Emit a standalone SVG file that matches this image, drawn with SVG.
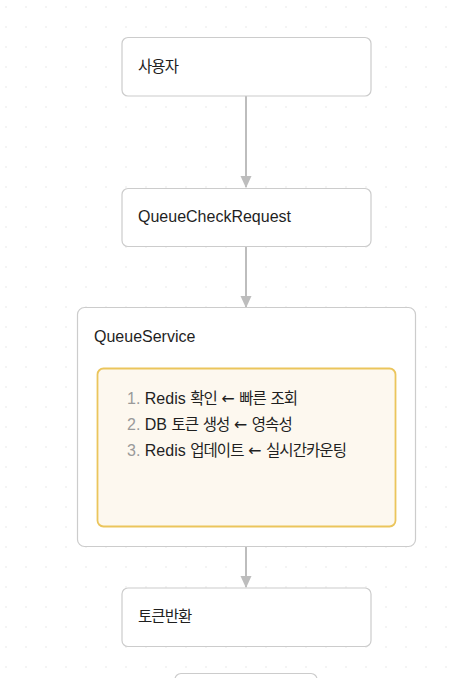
<svg xmlns="http://www.w3.org/2000/svg" width="456" height="678" viewBox="0 0 456 678">
<defs>
<pattern id="grid" x="0" y="0" width="20" height="20" patternUnits="userSpaceOnUse">
<rect x="5.5" y="6.5" width="1" height="1" fill="#d4d4d4"/>
</pattern>
<marker id="arr" viewBox="0 0 12 12" refX="11" refY="6" markerWidth="12" markerHeight="12" markerUnits="userSpaceOnUse" orient="auto">
<path d="M0,0.5 L12,6 L0,11.5 Z" fill="#bdbdbd"/>
</marker>
</defs>
<style>
.node{fill:#ffffff;stroke:#cccccc;stroke-width:1.2}
.inner{fill:#fdf8ef;stroke:#ebc55c;stroke-width:1.8}
.lbl{font-family:"Liberation Sans","Noto Sans CJK KR",sans-serif;font-size:16px;fill:#1f1f1f}
.ko{font-family:"Noto Sans CJK KR",sans-serif;font-size:15.5px;letter-spacing:-0.9px}
.ar{font-family:"DejaVu Sans",sans-serif;font-size:16px}
.num{fill:#9a9a9a}
.edge{stroke:#bdbdbd;stroke-width:2;fill:none}
</style>
<rect width="456" height="678" fill="#ffffff"/>
<rect width="456" height="678" fill="url(#grid)"/>
<g id="connectors">
<line class="edge" x1="246" y1="96" x2="246" y2="187" marker-end="url(#arr)"/>
<line class="edge" x1="246" y1="247" x2="246" y2="307" marker-end="url(#arr)"/>
<line class="edge" x1="246" y1="547" x2="246" y2="587" marker-end="url(#arr)"/>
</g>
<g id="node-user">
<rect class="node" x="122" y="37.5" width="249" height="58.5" rx="6"/>
<text class="lbl" x="138" y="72"><tspan class="ko">사용자</tspan></text>
</g>
<g id="node-request">
<rect class="node" x="122" y="188.5" width="249" height="58" rx="6"/>
<text class="lbl" x="138" y="222">QueueCheckRequest</text>
</g>
<g id="node-service">
<rect class="node" x="77.5" y="307.5" width="338" height="239" rx="7"/>
<text class="lbl" x="94" y="342">QueueService</text>
<rect class="inner" x="97.5" y="368.5" width="298" height="158" rx="6"/>
<text class="lbl" x="127" y="403.5"><tspan class="num">1.</tspan> Redis <tspan class="ko">확인</tspan> <tspan class="ar">←</tspan> <tspan class="ko">빠른</tspan> <tspan class="ko">조회</tspan></text>
<text class="lbl" x="127" y="429.5"><tspan class="num">2.</tspan> DB <tspan class="ko">토큰</tspan> <tspan class="ko">생성</tspan> <tspan class="ar">←</tspan> <tspan class="ko">영속성</tspan></text>
<text class="lbl" x="127" y="456"><tspan class="num">3.</tspan> Redis <tspan class="ko">업데이트</tspan> <tspan class="ar">←</tspan> <tspan class="ko">실시간카운팅</tspan></text>
</g>
<g id="node-token">
<rect class="node" x="122" y="588" width="249" height="58.5" rx="6"/>
<text class="lbl" x="138" y="622"><tspan class="ko">토큰반환</tspan></text>
</g>
<g id="node-next">
<rect class="node" x="175" y="673.5" width="142" height="40" rx="6"/>
</g>
</svg>
